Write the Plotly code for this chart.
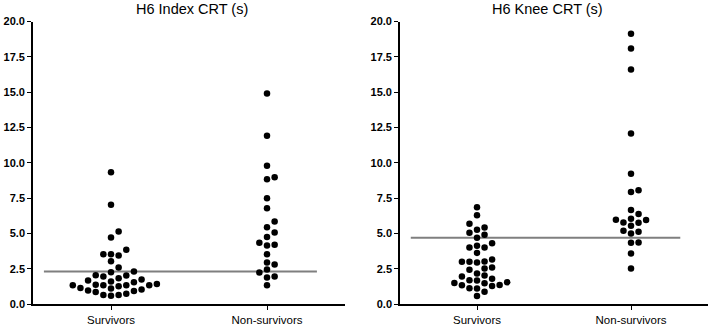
import plotly.graph_objects as go

# ---------------- data ----------------
categories = ["Survivors", "Non-survivors"]
panel_titles = ["H6 Index CRT (s)", "H6 Knee CRT (s)"]

index_survivors = [9.33, 7.03, 5.14, 4.71, 3.53, 3.43, 3.53, 3.84, 3.03, 2.58,
                   2.30, 2.25, 2.01, 1.94, 2.04, 1.82, 1.66, 1.54, 1.37, 1.32,
                   1.32, 1.25, 1.32, 1.32, 1.42, 1.59, 1.73, 1.09, 0.95, 0.85,
                   0.64, 0.59, 0.64, 0.73, 0.92, 1.02, 1.14]
index_nonsurvivors = [14.90, 11.92, 9.79, 8.98, 8.84, 7.49, 6.78, 5.85, 5.43, 5.07,
                      4.74, 4.34, 4.15, 4.19, 3.53, 2.80, 2.94, 2.23, 2.44, 1.94,
                      1.87, 1.33]
knee_survivors = [6.85, 6.28, 5.42, 5.69, 5.26, 5.05, 4.90, 4.69, 4.12, 4.00,
                  4.00, 4.31, 3.62, 3.01, 2.99, 2.94, 2.99, 3.15, 2.51, 2.16,
                  2.42, 2.58, 1.94, 1.68, 1.54, 1.28, 1.47, 1.09, 1.33, 1.49,
                  1.66, 1.78, 2.01, 1.35, 1.12, 0.87, 0.57]
knee_nonsurvivors = [19.14, 18.10, 16.61, 12.08, 9.22, 8.05, 7.94, 6.66, 6.37, 5.76,
                     6.04, 5.95, 5.97, 5.54, 5.78, 5.19, 5.00, 5.12, 4.34, 4.36,
                     3.58, 2.51]
index_cutoff = 2.3
knee_cutoff = 4.7
y_ticks = [0, 2.5, 5, 7.5, 10, 12.5, 15, 17.5, 20]
y_tick_labels = [f"{v:.1f}" for v in y_ticks]

# ---------------- layout helpers ----------------
FONT = "Liberation Sans, Arial, Helvetica, sans-serif"
COL_W = 0.049      # horizontal column step (category units)
MIN_GAP = 0.5      # vertical spacing needed inside one column (data units)


def swarm(values, center):
    """Prism-like column beeswarm: each value (ascending) goes to the column
    closest to the centre where it does not collide vertically."""
    order = sorted(range(len(values)), key=lambda i: values[i])
    seq = [0] + [s * k for k in range(1, 40) for s in (1, -1)]
    cols = {}
    xs = [0.0] * len(values)
    for i in order:
        v = values[i]
        for k in seq:
            if all(abs(v - u) >= MIN_GAP for u in cols.get(k, [])):
                cols.setdefault(k, []).append(v)
                xs[i] = center + k * COL_W
                break
    return xs


fig = go.Figure()

panels = [
    (index_survivors, index_nonsurvivors, index_cutoff, "x", "y"),
    (knee_survivors, knee_nonsurvivors, knee_cutoff, "x2", "y2"),
]

for surv, nonsurv, cutoff, xa, ya in panels:
    for ci, vals in enumerate([surv, nonsurv]):
        fig.add_trace(go.Scatter(
            x=swarm(vals, ci), y=vals, mode="markers",
            marker=dict(size=6.5, color="black", line=dict(width=0)),
            xaxis=xa, yaxis=ya, showlegend=False, hoverinfo="y"))
    fig.add_shape(type="line", xref=xa, yref=ya, x0=-0.43, x1=1.32,
                  y0=cutoff, y1=cutoff,
                  line=dict(color="#7f7f7f", width=2), layer="below")

W, H = 710, 326
y_dom = [22 / H, 1 - 21.6 / H]

xcommon = dict(range=[-0.5, 1.5], tickvals=[0, 1], ticktext=categories,
               showline=True, linecolor="black", linewidth=1.6,
               ticks="outside", ticklen=4, tickwidth=1.4, tickcolor="black",
               showgrid=False, zeroline=False, automargin=False,
               tickfont=dict(family=FONT, size=11.5, color="black"))
ycommon = dict(range=[0, 20], tickvals=y_ticks, ticktext=y_tick_labels,
               showline=True, linecolor="black", linewidth=1.6,
               ticks="outside", ticklen=4, tickwidth=1.4, tickcolor="black",
               showgrid=False, zeroline=False, automargin=False,
               tickfont=dict(family=FONT, size=11, color="black", weight="bold"),
               domain=y_dom)

fig.update_layout(
    width=W, height=H,
    margin=dict(l=0, r=0, t=0, b=0),
    paper_bgcolor="white", plot_bgcolor="white",
    font=dict(family=FONT, color="black"),
    xaxis=dict(domain=[33 / W, 345 / W], anchor="y", **xcommon),
    yaxis=dict(anchor="x", **ycommon),
    xaxis2=dict(domain=[400 / W, 708 / W], anchor="y2", **xcommon),
    yaxis2=dict(anchor="x2", **ycommon),
    annotations=[
        dict(text=panel_titles[0], xref="paper", yref="paper", x=191.7 / W, y=1,
             xanchor="center", yanchor="top", yshift=1, showarrow=False,
             font=dict(family=FONT, size=14.5, color="black")),
        dict(text=panel_titles[1], xref="paper", yref="paper", x=547.5 / W, y=1,
             xanchor="center", yanchor="top", yshift=1, showarrow=False,
             font=dict(family=FONT, size=14.5, color="black")),
    ],
)

# remove the browser's default 8px page margin so the figure sits at (0, 0)
fig.write_html("out.html",
               config={"displayModeBar": False},
               post_script="document.body.style.margin='0';"
                           "document.body.style.overflow='hidden';")
